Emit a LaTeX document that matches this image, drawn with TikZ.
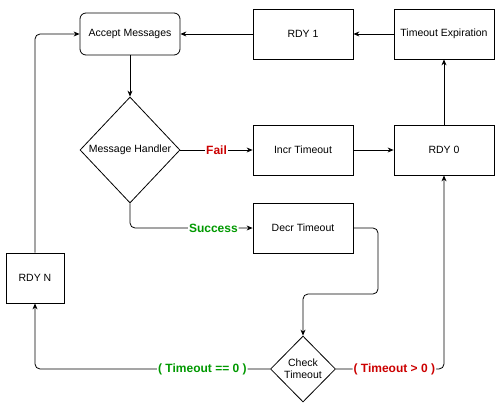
\documentclass[tikz,border=0pt]{standalone}
\usepackage{fontspec}
\setmainfont{Liberation Sans}
\usepackage{tikz}
\usetikzlibrary{shapes.geometric,arrows.meta}
\definecolor{failred}{HTML}{CC0000}
\definecolor{okgreen}{HTML}{009900}

\begin{document}
\begin{tikzpicture}[x=1pt, y=-1pt, line width=0.8pt,
        >={Stealth[length=6pt,width=5pt]},
        box/.style={draw, minimum width=100pt, minimum height=50pt,
                    inner sep=0pt, font=\fontsize{10.5}{12.5}\selectfont},
        decision/.style={draw, diamond, inner sep=0pt, align=center,
                    font=\fontsize{10.5}{12}\selectfont},
        lbl/.style={fill=white, inner sep=1pt, font=\fontsize{12}{14}\selectfont\bfseries}]
            \useasboundingbox (0,0) rectangle (500,409);

            \node[box, rounded corners=6pt, minimum height=42pt] (am) at (130,34) {Accept Messages};
            \node[decision, minimum width=100pt, minimum height=106pt] (mh) at (130,150) {Message Handler};
            \node[box] (rdy1) at (303,34) {RDY 1};
            \node[box] (texp) at (444,34) {Timeout Expiration};
            \node[box] (incr) at (303,150) {Incr Timeout};
            \node[box] (rdy0) at (444,150) {RDY 0};
            \node[box] (decr) at (303,228) {Decr Timeout};
            \node[box, minimum width=58pt] (rdyn) at (35,278) {RDY N};
            \node[decision, minimum width=65pt, minimum height=66pt] (ct) at (303,369) {Check\\Timeout};
            \coordinate (bend) at (378,294);

            \draw[->] (am) -- (mh);
            \draw[->] (mh) -- node[lbl, text=failred] {Fail} (incr);
            \draw[->, rounded corners=5pt] (mh.south) |- node[lbl, text=okgreen, pos=0.84] {Success} (decr);
            \draw[->] (incr) -- (rdy0);
            \draw[->] (rdy0) -- (texp);
            \draw[->] (texp) -- (rdy1);
            \draw[->] (rdy1) -- (am);
            \draw[->, rounded corners=5pt] (decr.east) -| (bend) -| (ct.north);
            \draw[->, rounded corners=5pt] (ct.west) -| node[lbl, text=okgreen, pos=0.144] {( Timeout == 0 )} (rdyn.south);
            \draw[->, rounded corners=5pt] (ct.east) -| node[lbl, text=failred, pos=0.27] {( Timeout > 0 )} (rdy0.south);
            \draw[->, rounded corners=5pt] (rdyn.north) |- (am.west);
        \end{tikzpicture}
\end{document}
